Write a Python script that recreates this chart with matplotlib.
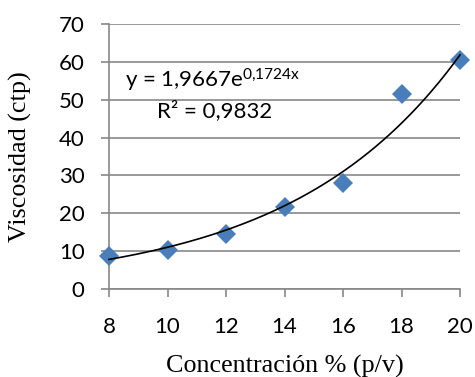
import numpy as np
import matplotlib
matplotlib.use("Agg")
import matplotlib.pyplot as plt

plt.rcParams["mathtext.fontset"] = "custom"
plt.rcParams["mathtext.rm"] = "Lato"
plt.rcParams["mathtext.it"] = "Lato"

concentracion = [8, 10, 12, 14, 16, 18, 20]
viscosidad = [8.7, 10.3, 14.5, 21.6, 28.0, 51.6, 60.6]
fit_a = 1.9667
fit_b = 0.1724
eq_text = r"y = 1,9667e$^{\mathrm{0{,}1724x}}$"
r2_text = "R² = 0,9832"
xticks = [8, 10, 12, 14, 16, 18, 20]
yticks = [0, 10, 20, 30, 40, 50, 60, 70]

W, H = 475, 377
x0, x1, y0, y1 = 109, 460, 289, 24

fig = plt.figure(figsize=(W / 100, H / 100), dpi=100)
ax = fig.add_axes([x0 / W, 1 - y0 / H, (x1 - x0) / W, (y0 - y1) / H])

grid_c = "#888888"
ax.set_xlim(8, 20)
ax.set_ylim(0, 70)
ax.set_xticks(xticks)
ax.set_yticks(yticks)
ax.yaxis.grid(True, color=grid_c, lw=1.2)
ax.set_axisbelow(True)
for s in ["top", "right"]:
    ax.spines[s].set_visible(False)
for s in ["left", "bottom"]:
    ax.spines[s].set_color(grid_c)
    ax.spines[s].set_linewidth(1.2)
ax.tick_params(axis="both", colors=grid_c, length=6, width=1.2, direction="out",
               labelcolor="black", labelsize=16)
ax.tick_params(axis="x", pad=14)
ax.tick_params(axis="y", pad=11.5)
for lab in ax.get_xticklabels() + ax.get_yticklabels():
    lab.set_family("Lato")

xs = np.linspace(min(concentracion), max(concentracion), 200)
ax.plot(xs, fit_a * np.exp(fit_b * xs), color="black", lw=1.2, zorder=4, clip_on=False)
ax.plot(concentracion, viscosidad, linestyle="none", marker="D", ms=10.2,
        color="#4A7EBB", markeredgewidth=0, zorder=3, clip_on=False)

pw, ph = x1 - x0, y0 - y1
ax.text((125 - x0) / pw, (y0 - 87) / ph, eq_text, transform=ax.transAxes, fontsize=16,
        family="Lato", va="baseline", ha="left")
ax.text((157 - x0) / pw, (y0 - 117) / ph, r2_text, transform=ax.transAxes, fontsize=16,
        family="Lato", va="baseline", ha="left")

ax.set_xlabel("Concentración % (p/v)", family="Liberation Serif", fontsize=18.8,
              va="baseline")
ax.xaxis.set_label_coords(0.5, (y0 - 373) / ph)
ax.set_ylabel("Viscosidad (ctp)", family="Liberation Serif", fontsize=18.8,
              va="center")
ax.yaxis.set_label_coords((20 - x0) / pw, 0.5)

fig.savefig("out.png", dpi=100)
